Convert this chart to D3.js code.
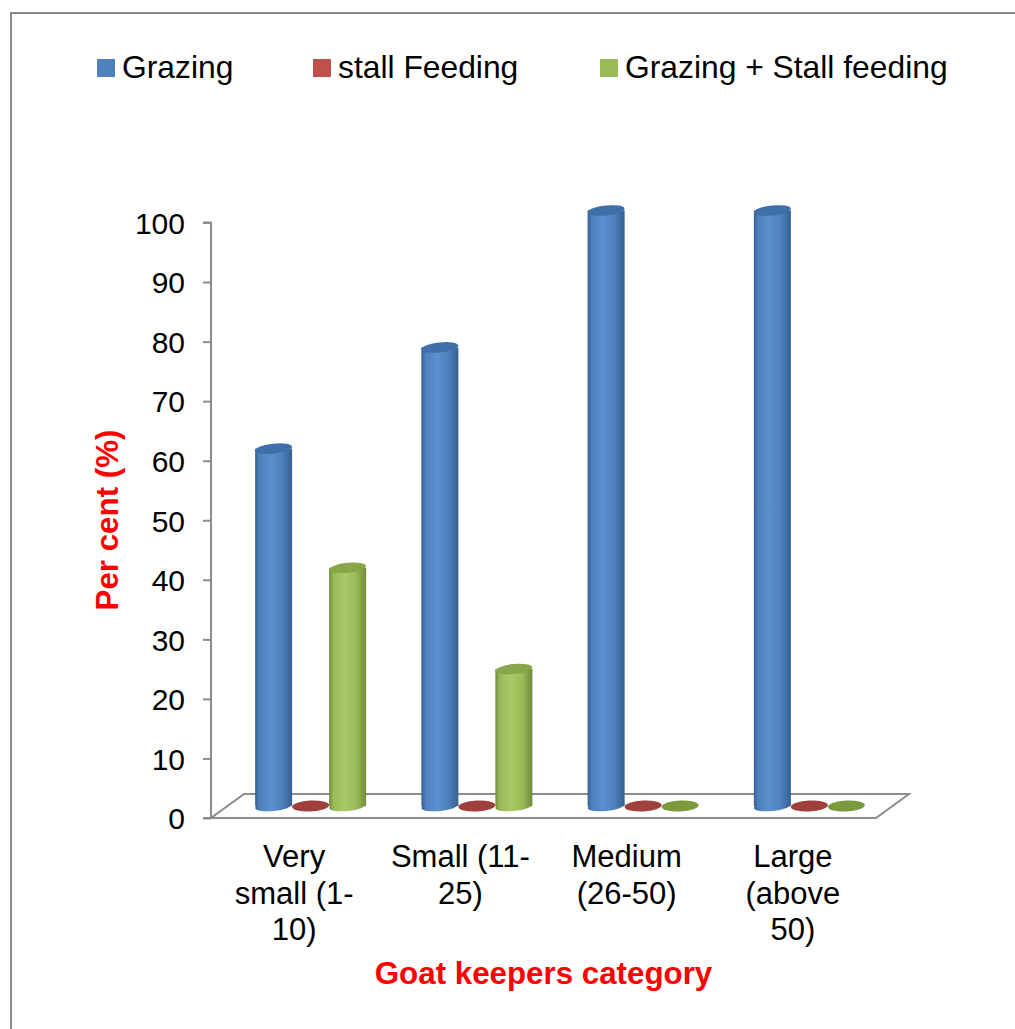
<!DOCTYPE html>
<html>
<head>
<meta charset="utf-8">
<script src="https://cdn.jsdelivr.net/npm/d3@7"></script>
<style>
  html, body { margin: 0; padding: 0; background: #fff; }
  svg { display: block; }
  text { font-family: "Liberation Sans", Arial, sans-serif; }
</style>
</head>
<body>
<svg id="chart" width="1015" height="1029"></svg>
<script>
// ---- data ----
const categories = ["Very small (1-10)", "Small (11-25)", "Medium (26-50)", "Large (above 50)"];
const categoryLines = [["Very", "small (1-", "10)"], ["Small (11-", "25)"], ["Medium", "(26-50)"], ["Large", "(above", "50)"]];
const seriesNames = ["Grazing", "stall Feeding", "Grazing + Stall feeding"];
const grazing = [60, 77, 100, 100];
const stallFeeding = [0, 0, 0, 0];
const grazingStall = [40, 23, 0, 0];
const yTicks = [0, 10, 20, 30, 40, 50, 60, 70, 80, 90, 100];
const seriesValues = [grazing, stallFeeding, grazingStall];

// ---- styling ----
const colors = {
  "Grazing": { base: "#4F81BD", dark: "#365F91", light: "#5B8FD0", top: "#3F6EA8", flat: "#3F6EA8" },
  "stall Feeding": { base: "#C0504D", dark: "#8E3432", light: "#CC5E5B", top: "#A33E3B", flat: "#A0403D" },
  "Grazing + Stall feeding": { base: "#9BBB59", dark: "#6F8B3A", light: "#A9C968", top: "#87A648", flat: "#7A9A3E" }
};

const svg = d3.select("#chart");
const defs = svg.append("defs");

// frame border (left and top only visible)
svg.append("path").attr("d", "M11,1029 V13 H1015").attr("fill", "none").attr("stroke", "#8a8a8a").attr("stroke-width", 2);

// geometry
const frontLeft = 211, frontRight = 876, y0px = 818, y100px = 222.5;
const depthDx = 33, depthDy = -24;
const midDx = depthDx / 2, midDy = depthDy / 2;

const y = d3.scaleLinear().domain([0, 100]).range([y0px, y100px]);
const x0 = d3.scaleBand().domain(categories).range([frontLeft, frontRight]).padding(0);
const groupW = 111;
const x1 = d3.scaleBand().domain(seriesNames).range([0, groupW]).padding(0);
const barW = x1.bandwidth();

// floor
svg.append("path")
  .attr("d", `M${frontLeft},${y0px} L${frontRight},${y0px} L${frontRight + depthDx},${y0px + depthDy} L${frontLeft + depthDx},${y0px + depthDy} Z`)
  .attr("fill", "#fff").attr("stroke", "#8c8c8c").attr("stroke-width", 2);

// y axis
const yAxis = d3.axisLeft(y).tickValues(yTicks).tickSize(8).tickPadding(18).tickFormat(d3.format("d"));
const yAxisG = svg.append("g").attr("transform", `translate(${frontLeft},0)`).call(yAxis);
yAxisG.select(".domain").attr("stroke", "#8c8c8c").attr("stroke-width", 2).attr("d", `M-8,${y(100)}H0V${y(0)}H-8`);
yAxisG.selectAll(".tick line").attr("stroke", "#8c8c8c").attr("stroke-width", 2);
yAxisG.selectAll(".tick text").attr("font-size", 30).attr("fill", "#000")
  .attr("font-family", "'Liberation Sans', Arial, sans-serif").attr("dy", "0.36em");

// gradients
seriesNames.forEach((s, i) => {
  const c = colors[s];
  const g = defs.append("linearGradient").attr("id", "grad" + i).attr("x1", "0").attr("x2", "1").attr("y1", "0").attr("y2", "0");
  g.append("stop").attr("offset", "0%").attr("stop-color", c.dark);
  g.append("stop").attr("offset", "12%").attr("stop-color", c.base);
  g.append("stop").attr("offset", "42%").attr("stop-color", c.light);
  g.append("stop").attr("offset", "72%").attr("stop-color", c.base);
  g.append("stop").attr("offset", "100%").attr("stop-color", c.dark);
});

const ry = 5;
const tilt = -6;
// bars (cylinders)
categories.forEach((cat, ci) => {
  const gx = x0(cat) + x0.bandwidth() / 2 - groupW / 2 + midDx;
  seriesNames.forEach((s, si) => {
    const v = seriesValues[si][ci];
    const cx = gx + x1(s) + barW / 2;
    const rx = barW / 2;
    const baseY = y(0) + midDy;
    const topY = y(v) + midDy;
    const c = colors[s];
    const g = svg.append("g");
    if (v <= 0) {
      g.append("ellipse").attr("cx", cx).attr("cy", baseY).attr("rx", rx).attr("ry", 5.5)
        .attr("transform", `rotate(-3,${cx},${baseY})`).attr("fill", c.flat);
      return;
    }
    // bottom ellipse
    g.append("ellipse").attr("cx", cx).attr("cy", baseY).attr("rx", rx).attr("ry", ry)
      .attr("transform", `rotate(${tilt},${cx},${baseY})`).attr("fill", `url(#grad${si})`);
    // body
    g.append("rect").attr("x", cx - rx).attr("y", topY).attr("width", barW).attr("height", baseY - topY)
      .attr("fill", `url(#grad${si})`);
    // top ellipse
    g.append("ellipse").attr("cx", cx).attr("cy", topY).attr("rx", rx).attr("ry", ry)
      .attr("transform", `rotate(${tilt},${cx},${topY})`).attr("fill", c.top);
  });
});

// category labels
categories.forEach((cat, ci) => {
  const cx = x0(cat) + x0.bandwidth() / 2;
  const t = svg.append("text").attr("text-anchor", "middle").attr("font-size", 31).attr("fill", "#000");
  categoryLines[ci].forEach((ln, li) => {
    t.append("tspan").attr("x", cx).attr("y", 867 + li * 36.7).text(ln);
  });
});

// axis titles
svg.append("text").attr("x", 543.5).attr("y", 984).attr("text-anchor", "middle")
  .attr("font-size", 31.3).attr("font-weight", "bold").attr("fill", "#FF0000").text("Goat keepers category");
svg.append("text").attr("transform", "translate(118,520) rotate(-90)").attr("text-anchor", "middle")
  .attr("font-size", 31.3).attr("font-weight", "bold").attr("fill", "#FF0000").text("Per cent (%)");

// legend
const legendX = [97, 313, 600];
const legend = svg.append("g");
seriesNames.forEach((s, i) => {
  legend.append("rect").attr("x", legendX[i]).attr("y", 59).attr("width", 18).attr("height", 18).attr("fill", colors[s].base);
  legend.append("text").attr("x", legendX[i] + 25).attr("y", 78).attr("font-size", 31.8).attr("fill", "#000").text(s);
});
</script>
</body>
</html>
